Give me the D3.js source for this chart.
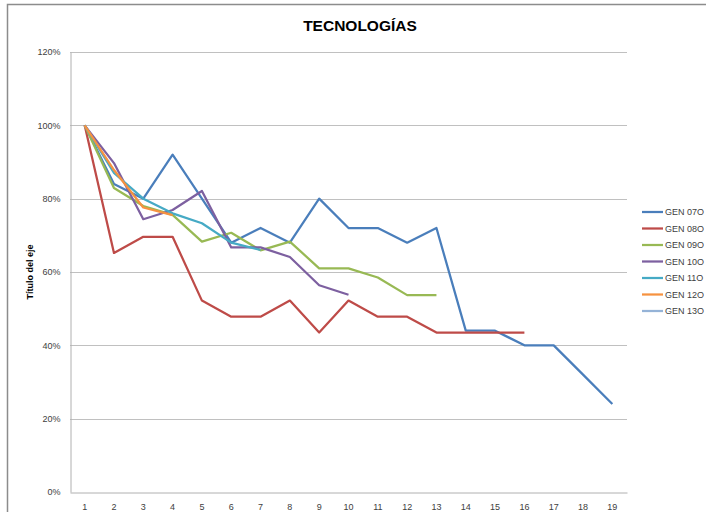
<!DOCTYPE html>
<html><head><meta charset="utf-8">
<script src="https://cdn.jsdelivr.net/npm/d3@7"></script>
<style>body{margin:0;background:#fff;}svg{display:block;font-family:"Liberation Sans",Arial,sans-serif;}</style>
</head><body>
<script>
const categories = d3.range(1, 20).map(String);
const seriesNames = ["GEN 07O","GEN 08O","GEN 09O","GEN 10O","GEN 11O","GEN 12O","GEN 13O"];
const gen07 = [1.00,0.84,0.80,0.92,0.80,0.68,0.72,0.68,0.80,0.72,0.72,0.68,0.72,0.44,0.44,0.40,0.40,0.32,0.24];
const gen08 = [1.00,0.652,0.696,0.696,0.522,0.478,0.478,0.522,0.435,0.522,0.478,0.478,0.435,0.435,0.435,0.435];
const gen09 = [1.00,0.829,0.780,0.756,0.683,0.707,0.659,0.683,0.610,0.610,0.585,0.537,0.537];
const gen10 = [1.00,0.897,0.744,0.769,0.821,0.667,0.667,0.641,0.564,0.538];
const gen11 = [1.00,0.87,0.80,0.76,0.733,0.68,0.66];
const gen12 = [1.00,0.878,0.776,0.755];
const gen13 = [1.00];
const colors = ["#4A7EBB","#BE4B48","#98B954","#7D60A0","#46AAC5","#F69240","#95B3D7"];
const yTicks = [0,0.2,0.4,0.6,0.8,1.0,1.2];
const allSeries = [gen07,gen08,gen09,gen10,gen11,gen12,gen13];

const W=706,H=512;
const svg=d3.select("body").append("svg").attr("width",W).attr("height",H);
// chart border
svg.append("path").attr("d","M7.5,520 V4.5 H720").attr("fill","none").attr("stroke","#8c8c8c").attr("stroke-width",1.5);

const x=d3.scaleBand().domain(categories).range([70,627]).padding(0);
const y=d3.scaleLinear().domain([0,1.2]).range([492,52]);

// gridlines
svg.append("g").selectAll("line").data(yTicks.filter(d=>d>0)).join("line")
 .attr("x1",70).attr("x2",627).attr("y1",d=>Math.round(y(d))+0.5).attr("y2",d=>Math.round(y(d))+0.5)
 .attr("stroke","#c0c0c0").attr("stroke-width",1);

// y axis
const ya=svg.append("g").attr("transform","translate(70.5,0)")
 .call(d3.axisLeft(y).tickValues(yTicks).tickFormat(d3.format(".0%")).tickSize(0).tickPadding(10));
ya.select(".domain").attr("stroke","#b0b0b0");
ya.selectAll("text").attr("font-size",9).attr("fill","#404040").attr("font-family","Liberation Sans, Arial");

// x axis
const xa=svg.append("g").attr("transform","translate(0,492.5)")
 .call(d3.axisBottom(x).tickSize(0).tickPadding(11));
xa.select(".domain").attr("stroke","#b0b0b0");
xa.selectAll("text").attr("font-size",9).attr("fill","#404040").attr("font-family","Liberation Sans, Arial");

// lines
const line=d3.line().x((d,i)=>x(categories[i])+x.bandwidth()/2).y(d=>y(d));
allSeries.forEach((s,k)=>{
  svg.append("path").datum(s).attr("d",line).attr("fill","none")
   .attr("stroke",colors[k]).attr("stroke-width",2.25).attr("stroke-linejoin","round");
});

// title
svg.append("text").attr("x",360).attr("y",31).attr("text-anchor","middle")
 .attr("font-size",15.5).attr("font-weight","bold").attr("fill","#000").text("TECNOLOGÍAS");

// y label
svg.append("text").attr("transform","translate(33,272) rotate(-90)").attr("text-anchor","middle")
 .attr("font-size",9).attr("font-weight","bold").attr("fill","#000").text("Título del eje");

// legend
const lg=svg.append("g");
seriesNames.forEach((n,i)=>{
  const yy=212+i*16.5;
  lg.append("line").attr("x1",642).attr("x2",663).attr("y1",yy).attr("y2",yy).attr("stroke",colors[i]).attr("stroke-width",2.25);
  lg.append("text").attr("x",665).attr("y",yy+3.2).attr("font-size",9).attr("fill","#404040").text(n);
});
</script>
</body></html>
